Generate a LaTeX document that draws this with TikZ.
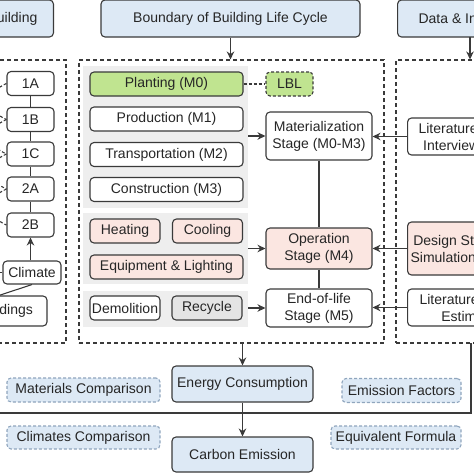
\documentclass[tikz,border=0pt]{standalone}
\usepackage{fontspec}
\setmainfont{Liberation Sans}
\usetikzlibrary{arrows.meta}
\definecolor{boxblue}{HTML}{DDE9F5}
\definecolor{dashblue}{HTML}{8FA5BD}
\definecolor{plantgreen}{HTML}{C0E490}
\definecolor{pinkfill}{HTML}{FBE6E1}
\definecolor{panelgray}{HTML}{EEEEEE}
\definecolor{recygray}{HTML}{E4E4E4}
\definecolor{linegray}{HTML}{3A3A3A}
\begin{document}
\begin{tikzpicture}[x=1pt, y=-1pt,
        every node/.style={font=\fontsize{14}{17}\selectfont, text=black!85},
        box/.style={draw=linegray, line width=1.1pt, rounded corners=4pt, fill=white, inner sep=0pt, align=center},
        headbox/.style={box, fill=boxblue, minimum height=37pt},
        mbox/.style={box, minimum width=153pt, minimum height=24pt},
        sbox/.style={box, minimum width=70pt, minimum height=24pt},
        lbox/.style={box, minimum width=47pt, minimum height=24pt},
        stage/.style={box, minimum width=106pt},
        notebox/.style={box, draw=dashblue, fill=boxblue, dash pattern=on 3pt off 2pt, minimum height=24pt},
        region/.style={draw=linegray, line width=1.1pt, dash pattern=on 4pt off 3pt, inner sep=0pt},
        panel/.style={fill=panelgray, inner sep=0pt},
        conn/.style={line width=1.1pt, draw=linegray},
        arr/.style={conn, -{Stealth[length=8pt, width=7.5pt]}}]
        \useasboundingbox (0,0) rectangle (474,474);
        \clip (0,0) rectangle (474,474);

        \node[headbox, anchor=east, inner xsep=16pt] (topL) at (54,18.5) {Typical Building};
        \node[headbox, minimum width=259pt] (topM) at (230.5,18.5) {Boundary of Building Life Cycle};
        \node[headbox, anchor=west, inner xsep=21pt] (topR) at (397,18.5) {Data \& Information};

        \node[region, minimum width=96pt, minimum height=283pt] (leftReg) at (18,201.5) {};
        \node[region, minimum width=305pt, minimum height=283pt] (midReg) at (231.5,201.5) {};
        \node[region, minimum width=110pt, minimum height=283pt] (rightReg) at (451,201.5) {};

        \node[panel, minimum width=165pt, minimum height=142pt] (pnlMat) at (165.5,137) {};
        \node[panel, minimum width=165pt, minimum height=71pt] (pnlOp) at (165.5,248.5) {};
        \node[panel, minimum width=165pt, minimum height=36pt] (pnlEol) at (165.5,309) {};

        \node[mbox, fill=plantgreen] (plant) at (166.5,84) {Planting (M0)};
        \node[mbox] (prod) at (166.5,119) {Production (M1)};
        \node[mbox] (trans) at (166.5,154.5) {Transportation (M2)};
        \node[mbox] (cons) at (166.5,189.5) {Construction (M3)};
        \node[sbox, fill=pinkfill] (heat) at (125,231) {Heating};
        \node[sbox, fill=pinkfill] (cool) at (207.5,231) {Cooling};
        \node[mbox, fill=pinkfill] (equip) at (166.5,267) {Equipment \& Lighting};
        \node[sbox] (demo) at (125,308) {Demolition};
        \node[sbox, fill=recygray] (recy) at (207,308) {Recycle};
        \node[box, fill=plantgreen, dash pattern=on 3pt off 2pt, minimum width=47pt, minimum height=24pt] (lbl) at (289.5,84) {LBL};

        \node[stage, minimum height=48pt] (mat) at (319,136) {Materialization\\Stage (M0-M3)};
        \node[stage, minimum height=41pt, fill=pinkfill] (op) at (319,248.5) {Operation\\Stage (M4)};
        \node[stage, minimum height=38pt] (eol) at (319,308) {End-of-life\\Stage (M5)};

        \node[box, anchor=west, inner xsep=11pt, minimum height=37pt] (litInt) at (407,136.5) {Literature \&\\Interviews};
        \node[box, anchor=west, inner xsep=3pt, minimum height=53pt, fill=pinkfill] (desSim) at (407,248.5) {Design Strategies\\Simulation Results};
        \node[box, anchor=west, inner xsep=12pt, minimum height=37pt] (litEst) at (407,307.5) {Literature Review\\Estimation};

        \node[lbox] (c1A) at (30.5,83.5) {1A};
        \node[lbox] (c1B) at (30.5,119.5) {1B};
        \node[lbox] (c1C) at (30.5,154) {1C};
        \node[lbox] (c2A) at (30.5,189) {2A};
        \node[lbox] (c2B) at (30.5,225) {2B};
        \node[box, minimum width=58pt, minimum height=23pt] (clim) at (32,272.5) {Climate};
        \node[box, minimum width=85pt, minimum height=30pt] (bldg) at (4.5,311) {Buildings};

        \node[box, fill=boxblue, minimum width=141pt, minimum height=36pt] (energy) at (242.5,384) {Energy Consumption};
        \node[box, fill=boxblue, minimum width=141pt, minimum height=35pt] (carbon) at (242.5,454.5) {Carbon Emission};
        \node[notebox, minimum width=153pt] (matCmp) at (83.5,390) {Materials Comparison};
        \node[notebox, minimum width=153pt, minimum height=23pt] (climCmp) at (83.5,437.5) {Climates Comparison};
        \node[notebox, minimum width=119pt] (emisF) at (401.5,390.5) {Emission Factors};
        \node[notebox, minimum width=130pt, minimum height=23pt] (equivF) at (396,437.5) {Equivalent Formula};

        \coordinate (dataDrop) at (470,37);
        \coordinate (climFeed) at (-20,272.5);
        \coordinate (bldgLink) at (-30,305);

        \draw[arr] (topM.south) -- (topM.south |- midReg.north);
        \draw[arr] (dataDrop) -- (dataDrop |- rightReg.north);
        \draw[conn, dash pattern=on 3pt off 2pt] (plant) -- (lbl);

        \draw[arr] (pnlMat.east |- mat) -- (mat.west);
        \draw[arr] (pnlOp.east |- op) -- (op.west);
        \draw[arr] (pnlEol.east |- eol) -- (eol.west);
        \draw[arr] (litInt.west) -- (litInt.west -| mat.east);
        \draw[arr] (desSim.west) -- (desSim.west -| op.east);
        \draw[arr] (litEst.west) -- (litEst.west -| eol.east);
        \draw[conn] (mat) -- (op);
        \draw[conn] (op) -- (eol);

        \foreach \a/\b in {c1A/c1B, c1B/c1C, c1C/c2A, c2A/c2B} {
            \draw[conn] (\a) -- (\b);
            \draw[conn, dash pattern=on 3pt off 2pt] (\a.west) to[out=205, in=155, looseness=1.8] (\b.west);
        }
        \draw[arr] (clim.north -| c2B.south) -- (c2B.south);
        \draw[conn] (climFeed) -- (clim.west);
        \draw[conn] (clim.south) -- (bldgLink);

        \draw[arr] (midReg.south -| energy.north) -- (energy.north);
        \draw[arr] (energy) -- (carbon);
        \draw[line width=1.8pt, draw=linegray] (471,343) -- (471,413) -- (-5,413);
    \end{tikzpicture}
\end{document}
